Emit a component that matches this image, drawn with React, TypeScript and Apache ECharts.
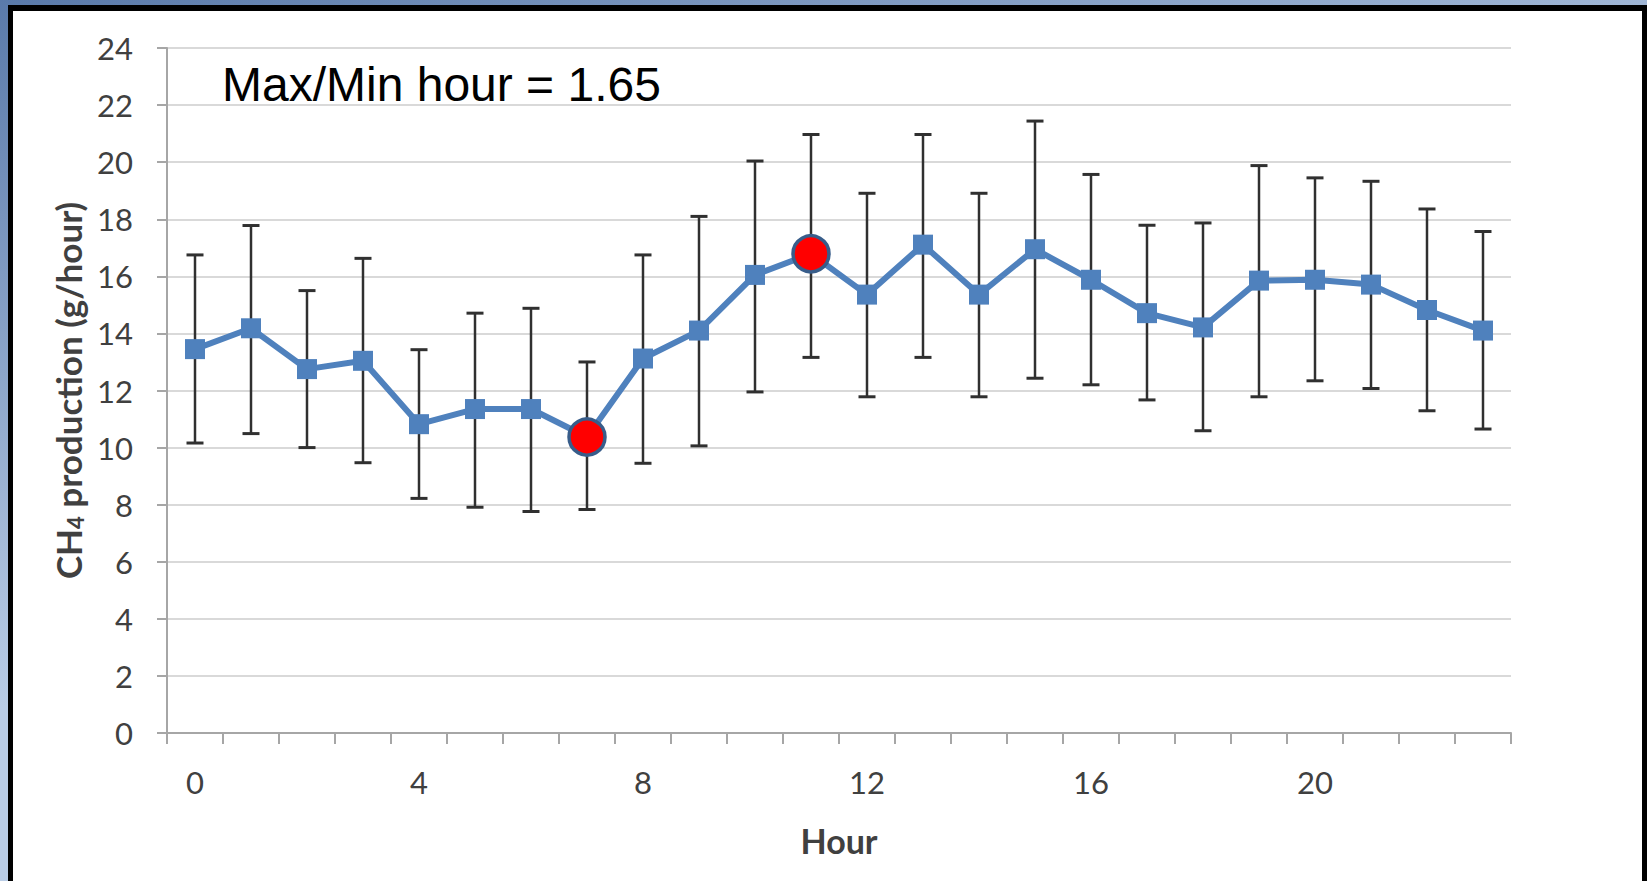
import React, { useEffect, useRef } from "react";
import * as echarts from "echarts";

const hours = ["0","1","2","3","4","5","6","7","8","9","10","11","12","13","14","15","16","17","18","19","20","21","22","23"];
const means = [13.45, 14.18, 12.75, 13.04, 10.82, 11.35, 11.35, 10.37, 13.12, 14.1, 16.05, 16.79, 15.36, 17.11, 15.36, 16.95, 15.88, 14.71, 14.21, 15.85, 15.88, 15.71, 14.82, 14.1];
const upper = [16.75, 17.78, 15.5, 16.63, 13.43, 14.71, 14.88, 13.0, 16.75, 18.1, 20.04, 20.97, 18.91, 20.97, 18.91, 21.44, 19.57, 17.79, 17.87, 19.88, 19.45, 19.33, 18.36, 17.57];
const lower = [10.16, 10.49, 10.0, 9.47, 8.22, 7.91, 7.76, 7.83, 9.45, 10.06, 11.95, 13.16, 11.78, 13.16, 11.78, 12.43, 12.2, 11.67, 10.59, 11.78, 12.34, 12.07, 11.29, 10.65];
const highlightIdx = [7, 11];
const annotation = "Max/Min hour = 1.65";

export default function App() {
  const ref = useRef<HTMLDivElement>(null);
  useEffect(() => {
    if (!ref.current) return;
    const chart = echarts.init(ref.current, null, { renderer: "svg" });
    const lineData = means.map((v, i) =>
      highlightIdx.includes(i)
        ? {
            value: v,
            symbol: "circle",
            symbolSize: 36,
            itemStyle: { color: "#FF0000", borderColor: "#385D8A", borderWidth: 3.5 },
          }
        : v
    );
    const errData = hours.map((_, i) => [i, lower[i], upper[i]]);
    const axisGray = "#a6a6a6";
    const labelColor = "#404040";
    chart.setOption({
      animation: false,
      backgroundColor: {
        type: "linear",
        x: 0, y: 0, x2: 0.35, y2: 0.6,
        colorStops: [
          { offset: 0, color: "#5a7aaa" },
          { offset: 1, color: "#bacde6" },
        ],
      },
      graphic: [
        { type: "rect", shape: { x: 8, y: 5, width: 1700, height: 1000 }, style: { fill: "#000" }, z: -10 },
        { type: "rect", shape: { x: 13, y: 11, width: 1629, height: 1000 }, style: { fill: "#fff" }, z: -9 },
        {
          type: "text",
          x: 222,
          y: 84,
          style: {
            text: annotation,
            fontFamily: "Liberation Sans, Arial",
            fontSize: 48,
            fill: "#000",
            textVerticalAlign: "middle",
          },
          z: 10,
        },
      ],
      grid: { left: 167, right: 136, top: 48, bottom: 148 },
      xAxis: {
        type: "category",
        data: hours,
        boundaryGap: true,
        name: "Hour",
        nameLocation: "middle",
        nameGap: 90,
        nameTextStyle: { fontFamily: "Lato", fontWeight: "bold", fontSize: 34, color: labelColor },
        axisLine: { show: true, lineStyle: { color: axisGray, width: 2 } },
        axisTick: { show: true, interval: 0, length: 11, lineStyle: { color: axisGray, width: 2 } },
        axisLabel: { interval: 3, margin: 33, fontFamily: "Lato", fontSize: 31, color: labelColor },
        splitLine: { show: false },
      },
      yAxis: {
        type: "value",
        min: 0,
        max: 24,
        interval: 2,
        name: "{a|CH}{s|4}{a| production (g/hour)}",
        nameLocation: "middle",
        nameGap: 80,
        nameRotate: 90,
        nameTextStyle: {
          rich: {
            a: { fontFamily: "Lato", fontWeight: "bold", fontSize: 35, color: labelColor, lineHeight: 36 },
            s: { fontFamily: "Lato", fontWeight: "bold", fontSize: 22, color: labelColor, lineHeight: 12, verticalAlign: "bottom" },
          },
        },
        axisLine: { show: true, lineStyle: { color: axisGray, width: 2 } },
        axisTick: { show: true, length: 10, lineStyle: { color: axisGray, width: 2 } },
        axisLabel: { margin: 34, fontFamily: "Lato", fontSize: 31, color: labelColor },
        splitLine: { show: true, lineStyle: { color: "#d9d9d9", width: 2 } },
      },
      series: [
        {
          type: "custom",
          z: 1,
          data: errData,
          encode: { x: 0, y: [1, 2] },
          renderItem: (params: any, api: any) => {
            const i = api.value(0);
            const pHi = api.coord([i, api.value(2)]);
            const pLo = api.coord([i, api.value(1)]);
            const hw = 8.5;
            const st = { stroke: "#303030", lineWidth: 2.5 };
            return {
              type: "group",
              children: [
                { type: "line", shape: { x1: pHi[0], y1: pHi[1], x2: pLo[0], y2: pLo[1] }, style: st },
                { type: "line", shape: { x1: pHi[0] - hw, y1: pHi[1], x2: pHi[0] + hw, y2: pHi[1] }, style: { stroke: "#303030", lineWidth: 3 } },
                { type: "line", shape: { x1: pLo[0] - hw, y1: pLo[1], x2: pLo[0] + hw, y2: pLo[1] }, style: { stroke: "#303030", lineWidth: 3 } },
              ],
            };
          },
        },
        {
          type: "line",
          z: 3,
          data: lineData,
          symbol: "rect",
          symbolSize: 20,
          lineStyle: { color: "#4F81BD", width: 6 },
          itemStyle: { color: "#4F81BD" },
        },
      ],
    });
    return () => chart.dispose();
  }, []);
  return <div ref={ref} style={{ position: "fixed", left: 0, top: 0, width: 1647, height: 881 }} />;
}
